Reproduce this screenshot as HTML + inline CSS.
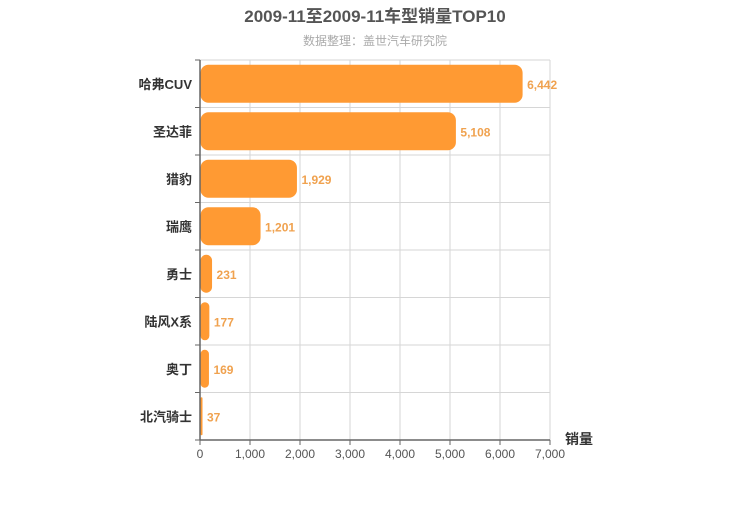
<!DOCTYPE html>
<html><head><meta charset="utf-8"><style>
body{margin:0;background:#fff;width:750px;height:500px;overflow:hidden;font-family:"Liberation Sans","Noto Sans CJK SC",sans-serif}
</style></head><body>
<svg id="chart" width="750" height="500" xmlns="http://www.w3.org/2000/svg" font-family="Liberation Sans, Noto Sans CJK SC, sans-serif">
<text x="375" y="22" text-anchor="middle" font-size="17" font-weight="bold" fill="#555">2009-11至2009-11车型销量TOP10</text>
<text x="375" y="45" text-anchor="middle" font-size="12" fill="#aaa">数据整理：盖世汽车研究院</text>
<text x="565" y="444" font-size="14" font-weight="bold" fill="#333">销量</text>
<g id="grid"></g><g id="bars"></g><g id="axes"></g>
</svg>
<script>
const categories=["哈弗CUV","圣达菲","猎豹","瑞鹰","勇士","陆风X系","奥丁","北汽骑士"];
const values=[6442,5108,1929,1201,231,177,169,37];
const xTicks=[0,1000,2000,3000,4000,5000,6000,7000];
const NS="http://www.w3.org/2000/svg";
const x0=200,x1=550,y0=60,y1=440,xMax=7000;
const xs=v=>x0+(v/xMax)*(x1-x0);
const band=(y1-y0)/categories.length;
const ys=i=>y0+i*band;
function mk(t,a,p){const e=document.createElementNS(NS,t);for(const k in a)e.setAttribute(k,a[k]);p.appendChild(e);return e;}
const grid=document.getElementById('grid'),bars=document.getElementById('bars'),axes=document.getElementById('axes');
xTicks.forEach(t=>{
 const l=mk('line',{x1:xs(t),x2:xs(t),y1:y0,y2:y1,stroke:'#d6d6d6','stroke-width':1},grid);
 
 
 const tk=mk('line',{x1:xs(t),x2:xs(t),y1:y1,y2:y1+5,stroke:'#666'},axes);
 
 
 const tx=mk('text',{x:xs(t),y:y1+18,'text-anchor':'middle','font-size':12,fill:'#555'},axes);
 tx.textContent=t.toLocaleString('en-US');
 
 
});
for(let i=0;i<=categories.length;i++){
 const l=mk('line',{x1:x0,x2:x1,y1:ys(i),y2:ys(i),stroke:'#d6d6d6'},grid);
 
 
 const tk=mk('line',{x1:x0-5,x2:x0,y1:ys(i),y2:ys(i),stroke:'#666'},axes);
 
 
}
categories.forEach((c,i)=>{
 const by=ys(i)+band*0.1,bh=band*0.8,w=Math.max(xs(values[i])-x0,2);
 const r=Math.min(8,w/2);
 const b=mk('rect',{x:x0+0.5,y:by,width:w,height:bh,rx:r,ry:r,fill:'#ff9a33'},bars);
 
 
 const v=mk('text',{x:x0+w+5,y:ys(i)+band/2+5,'font-size':12,'font-weight':'bold',fill:'#f0a24f'},bars);
 v.textContent=values[i].toLocaleString('en-US');
 
 
 const t=mk('text',{x:x0-8,y:ys(i)+band/2+5,'text-anchor':'end','font-size':13,'font-weight':'bold',fill:'#333'},axes);
 t.textContent=c;
 
 
});
const ax=mk('line',{x1:x0,x2:x0,y1:y0,y2:y1,stroke:'#666','stroke-width':1.5},axes);


const bx=mk('line',{x1:x0,x2:x1,y1:y1,y2:y1,stroke:'#666','stroke-width':1.5},axes);


</script>
</body></html>
